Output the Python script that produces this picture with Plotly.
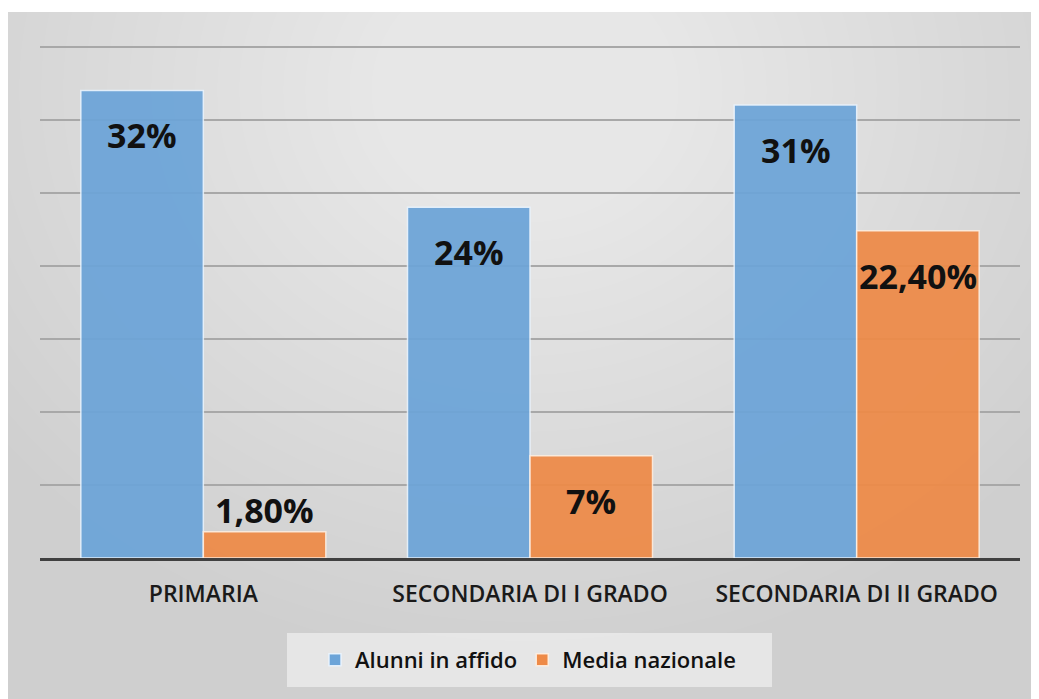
import plotly.graph_objects as go

categories = ["PRIMARIA", "SECONDARIA DI I GRADO", "SECONDARIA DI II GRADO"]
alunni_affido = [32, 24, 31]
media_nazionale = [1.8, 7, 22.4]
labels_affido = ["32%", "24%", "31%"]
labels_media = ["1,80%", "7%", "22,40%"]

# page body has an 8px margin; figure is offset by 8px on the page
OFF = 8
W, H = 1039 - OFF, 699 - OFF
L, R, T, B = 40 - OFF, 19, 32 - OFF, 141
pw, ph = W - L - R, H - T - B

def px_x(p):  # p in page pixels
    return (p - OFF - L) / pw

def px_y(p):
    return (H - B - (p - OFF)) / ph

BLUE = "#6CA4D8"
ORANGE = "#EE8A47"
FONT = "Open Sans"

fig = go.Figure()
fig.add_trace(go.Bar(
    name="Alunni in affido", x=categories, y=alunni_affido,
    marker=dict(color=BLUE, opacity=0.93, line=dict(color="rgba(235,245,255,0.9)", width=1.5)),
))
fig.add_trace(go.Bar(
    name="Media nazionale", x=categories, y=media_nazionale,
    marker=dict(color=ORANGE, opacity=0.93, line=dict(color="rgba(255,240,225,0.9)", width=1.5)),
))

shapes = []
shapes.append(dict(type="rect", xref="paper", yref="paper", layer="below",
                   x0=px_x(7), x1=px_x(1045), y0=px_y(705), y1=px_y(12),
                   fillcolor="#CFCFCF", line=dict(width=0)))
cx, cy = 525, 90
n = 30
for k in range(n):
    f = 1 - k / n
    rx, ry = 660 * f, 570 * f
    shapes.append(dict(type="circle", xref="paper", yref="paper", layer="below",
                       x0=px_x(cx - rx), x1=px_x(cx + rx), y0=px_y(cy + ry), y1=px_y(cy - ry),
                       fillcolor="rgba(255,255,255,0.038)", line=dict(width=0)))
shapes.append(dict(type="rect", xref="paper", yref="paper", layer="below",
                   x0=px_x(0), x1=px_x(1045), y0=px_y(12), y1=px_y(0),
                   fillcolor="white", line=dict(width=0)))
shapes.append(dict(type="rect", xref="paper", yref="paper", layer="below",
                   x0=px_x(0), x1=px_x(7), y0=px_y(705), y1=px_y(0),
                   fillcolor="white", line=dict(width=0)))
shapes.append(dict(type="rect", xref="paper", yref="paper", layer="below",
                   x0=px_x(287), x1=px_x(772), y0=px_y(687), y1=px_y(633),
                   fillcolor="rgba(238,238,238,0.75)", line=dict(width=0)))

annotations = []
for i, c in enumerate(categories):
    for vals, labs, xs in ((alunni_affido, labels_affido, -61), (media_nazionale, labels_media, 61)):
        v = vals[i]
        inside = v >= 5
        annotations.append(dict(x=c, y=v, xref="x", yref="y", text=labs[i], showarrow=False,
                                xshift=xs, yshift=-45 if inside else -3,
                                yanchor="middle" if inside else "bottom",
                                font=dict(family=FONT, size=34, color="#111111", weight=700)))

fig.update_layout(
    width=W, height=H,
    margin=dict(l=L, r=R, t=T, b=B),
    paper_bgcolor="white", plot_bgcolor="rgba(0,0,0,0)",
    barmode="group", bargap=0.25, bargroupgap=0,
    shapes=shapes, annotations=annotations,
    showlegend=True,
    legend=dict(orientation="h", x=px_x(528), xanchor="center", y=px_y(660), yanchor="middle",
                bgcolor="rgba(0,0,0,0)", font=dict(family=FONT, size=22, color="#111111", weight=600),
                itemwidth=30, traceorder="normal"),
    xaxis=dict(showline=True, linecolor="#404040", linewidth=3, showgrid=False,
               ticks="", ticklabelstandoff=13,
               tickfont=dict(family=FONT, size=23, color="#1a1a1a", weight=600)),
    yaxis=dict(range=[0, 36], dtick=5, showgrid=True, gridcolor="#A8A8A8", gridwidth=2,
               showticklabels=False, zeroline=False, showline=False, ticks=""),
)

fig.write_html("out.html")
